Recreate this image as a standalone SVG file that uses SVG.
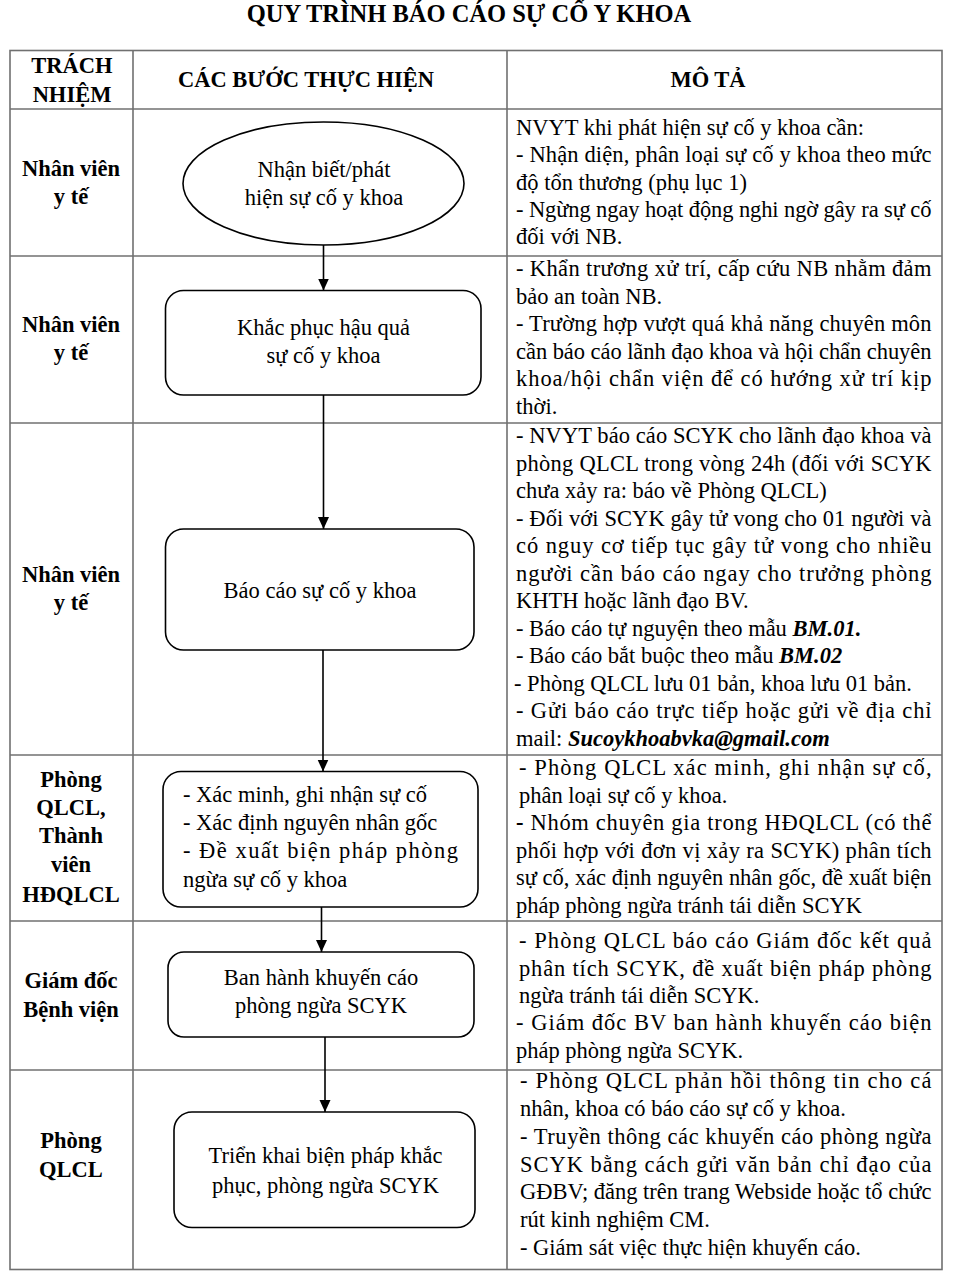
<svg xmlns="http://www.w3.org/2000/svg" width="966" height="1280" viewBox="0 0 966 1280">
<style>
text{font-family:"Liberation Serif","Times New Roman",serif;font-size:22.5px;fill:#000}
.b{font-weight:bold}
.c{text-anchor:middle}
.bi{font-weight:bold;font-style:italic}
.grid{stroke:#707070;stroke-width:1.6;fill:none}
.node{fill:#fff;stroke:#000;stroke-width:1.6}
.conn{stroke:#000;stroke-width:1.6;fill:none;marker-end:url(#arr)}
</style>
<defs>
<marker id="arr" markerUnits="userSpaceOnUse" markerWidth="12" markerHeight="12" viewBox="0 0 12 12" refX="12" refY="6" orient="auto">
<path d="M0,0.5 L12,6 L0,11.5 z" fill="#000"/>
</marker>
</defs>
<rect width="966" height="1280" fill="#fff"/>
<text class="b c" x="469" y="22" style="font-size:24.5px">QUY TRÌNH BÁO CÁO SỰ CỐ Y KHOA</text>

<g id="table">
<rect class="grid" x="10" y="50.5" width="932" height="1219"/>
<line class="grid" x1="133" y1="50.5" x2="133" y2="1269.5"/>
<line class="grid" x1="507" y1="50.5" x2="507" y2="1269.5"/>
<line class="grid" x1="10" y1="109" x2="942" y2="109"/>
<line class="grid" x1="10" y1="256" x2="942" y2="256"/>
<line class="grid" x1="10" y1="423" x2="942" y2="423"/>
<line class="grid" x1="10" y1="755" x2="942" y2="755"/>
<line class="grid" x1="10" y1="921" x2="942" y2="921"/>
<line class="grid" x1="10" y1="1070" x2="942" y2="1070"/>
</g>

<g id="header">
<text class="b c" x="72" y="73">TRÁCH</text>
<text class="b c" x="72" y="102">NHIỆM</text>
<text class="b c" x="306" y="87">CÁC BƯỚC THỰC HIỆN</text>
<text class="b c" x="708" y="87">MÔ TẢ</text>
</g>

<g id="responsibility">
<text class="b c" x="71" y="176">Nhân viên</text>
<text class="b c" x="71" y="204">y tế</text>
<text class="b c" x="71" y="332">Nhân viên</text>
<text class="b c" x="71" y="360">y tế</text>
<text class="b c" x="71" y="582">Nhân viên</text>
<text class="b c" x="71" y="610">y tế</text>
<text class="b c" x="71" y="787">Phòng</text>
<text class="b c" x="71" y="815">QLCL,</text>
<text class="b c" x="71" y="843">Thành</text>
<text class="b c" x="71" y="872">viên</text>
<text class="b c" x="71" y="902">HĐQLCL</text>
<text class="b c" x="71" y="988">Giám đốc</text>
<text class="b c" x="71" y="1017">Bệnh viện</text>
<text class="b c" x="71" y="1148">Phòng</text>
<text class="b c" x="71" y="1177">QLCL</text>
</g>

<g id="n1">
<ellipse class="node" cx="323.5" cy="183.5" rx="140.5" ry="61.5"/>
<text class="c" x="324" y="177">Nhận biết/phát</text>
<text class="c" x="324" y="205">hiện sự cố y khoa</text>
</g>
<g id="n2">
<rect class="node" x="165.5" y="290.5" width="315.5" height="104.5" rx="18"/>
<text class="c" x="323.5" y="335">Khắc phục hậu quả</text>
<text class="c" x="323.5" y="363">sự cố y khoa</text>
</g>
<g id="n3">
<rect class="node" x="165.5" y="529" width="308.5" height="121" rx="18"/>
<text class="c" x="320" y="598">Báo cáo sự cố y khoa</text>
</g>
<g id="n4">
<rect class="node" x="163" y="771.5" width="315" height="135.5" rx="18"/>
<text x="183" y="802">- Xác minh, ghi nhận sự cố</text>
<text x="183" y="830">- Xác định nguyên nhân gốc</text>
<text x="183" y="858" textLength="275" lengthAdjust="spacing">- Đề xuất biện pháp phòng</text>
<text x="183" y="887">ngừa sự cố y khoa</text>
</g>
<g id="n5">
<rect class="node" x="168" y="952" width="306" height="85" rx="16"/>
<text class="c" x="321" y="985">Ban hành khuyến cáo</text>
<text class="c" x="321" y="1013">phòng ngừa SCYK</text>
</g>
<g id="n6">
<rect class="node" x="174" y="1112" width="301" height="115.5" rx="18"/>
<text class="c" x="325.5" y="1163">Triển khai biện pháp khắc</text>
<text class="c" x="325.5" y="1193">phục, phòng ngừa SCYK</text>
</g>

<g id="connectors">
<line class="conn" x1="323.5" y1="245" x2="323.5" y2="290.5"/>
<line class="conn" x1="323.5" y1="395" x2="323.5" y2="529"/>
<line class="conn" x1="323" y1="650" x2="323" y2="771.5"/>
<line class="conn" x1="321.5" y1="907" x2="321.5" y2="952"/>
<line class="conn" x1="325" y1="1037" x2="325" y2="1112"/>
</g>

<g id="desc1">
<text x="516" y="135">NVYT khi phát hiện sự cố y khoa cần:</text>
<text x="516" y="162" textLength="415.5" lengthAdjust="spacing">- Nhận diện, phân loại sự cố y khoa theo mức</text>
<text x="516" y="190">độ tổn thương (phụ lục 1)</text>
<text x="516" y="217" textLength="415.5" lengthAdjust="spacing">- Ngừng ngay hoạt động nghi ngờ gây ra sự cố</text>
<text x="516" y="244">đối với NB.</text>
</g>
<g id="desc2">
<text x="516" y="276" textLength="415.5" lengthAdjust="spacing">- Khẩn trương xử trí, cấp cứu NB nhằm đảm</text>
<text x="516" y="303.5">bảo an toàn NB.</text>
<text x="516" y="331" textLength="415.5" lengthAdjust="spacing">- Trường hợp vượt quá khả năng chuyên môn</text>
<text x="516" y="358.5" textLength="415.5" lengthAdjust="spacing">cần báo cáo lãnh đạo khoa và hội chẩn chuyên</text>
<text x="516" y="386" textLength="415.5" lengthAdjust="spacing">khoa/hội chẩn viện để có hướng xử trí kịp</text>
<text x="516" y="413.5">thời.</text>
</g>
<g id="desc3">
<text x="516" y="443" textLength="415.5" lengthAdjust="spacing">- NVYT báo cáo SCYK cho lãnh đạo khoa và</text>
<text x="516" y="470.5" textLength="415.5" lengthAdjust="spacing">phòng QLCL trong vòng 24h (đối với SCYK</text>
<text x="516" y="498">chưa xảy ra: báo về Phòng QLCL)</text>
<text x="516" y="525.5" textLength="415.5" lengthAdjust="spacing">- Đối với SCYK gây tử vong cho 01 người và</text>
<text x="516" y="553" textLength="415.5" lengthAdjust="spacing">có nguy cơ tiếp tục gây tử vong cho nhiều</text>
<text x="516" y="580.5" textLength="415.5" lengthAdjust="spacing">người cần báo cáo ngay cho trưởng phòng</text>
<text x="516" y="608">KHTH hoặc lãnh đạo BV.</text>
<text x="516" y="635.5">- Báo cáo tự nguyện theo mẫu <tspan class="bi">BM.01.</tspan></text>
<text x="516" y="663">- Báo cáo bắt buộc theo mẫu <tspan class="bi">BM.02</tspan></text>
<text x="514" y="690.5">- Phòng QLCL lưu 01 bản, khoa lưu 01 bản.</text>
<text x="516" y="718" textLength="415.5" lengthAdjust="spacing">- Gửi báo cáo trực tiếp hoặc gửi về địa chỉ</text>
<text x="516" y="745.5">mail: <tspan class="bi">Sucoykhoabvka@gmail.com</tspan></text>
</g>
<g id="desc4">
<text x="519" y="775" textLength="412.5" lengthAdjust="spacing">- Phòng QLCL xác minh, ghi nhận sự cố,</text>
<text x="519" y="802.5">phân loại sự cố y khoa.</text>
<text x="516" y="830" textLength="415.5" lengthAdjust="spacing"><tspan class="b">-</tspan> Nhóm chuyên gia trong HĐQLCL (có thể</text>
<text x="516" y="857.5" textLength="415.5" lengthAdjust="spacing">phối hợp với đơn vị xảy ra SCYK) phân tích</text>
<text x="516" y="885" textLength="415.5" lengthAdjust="spacing">sự cố, xác định nguyên nhân gốc, đề xuất biện</text>
<text x="516" y="912.5">pháp phòng ngừa tránh tái diễn SCYK</text>
</g>
<g id="desc5">
<text x="519" y="948" textLength="412.5" lengthAdjust="spacing">- Phòng QLCL báo cáo Giám đốc kết quả</text>
<text x="519" y="975.5" textLength="412.5" lengthAdjust="spacing">phân tích SCYK, đề xuất biện pháp phòng</text>
<text x="519" y="1003">ngừa tránh tái diễn SCYK.</text>
<text x="516" y="1030" textLength="415.5" lengthAdjust="spacing">- Giám đốc BV ban hành  khuyến cáo biện</text>
<text x="516" y="1057.5">pháp phòng ngừa SCYK.</text>
</g>
<g id="desc6">
<text x="520" y="1088" textLength="411.5" lengthAdjust="spacing">- Phòng QLCL phản hồi thông tin cho cá</text>
<text x="520" y="1116">nhân, khoa có báo cáo sự cố y khoa.</text>
<text x="520" y="1144" textLength="411.5" lengthAdjust="spacing">- Truyền thông các khuyến cáo phòng ngừa</text>
<text x="520" y="1171.5" textLength="411.5" lengthAdjust="spacing">SCYK bằng cách gửi văn bản chỉ đạo của</text>
<text x="520" y="1199" textLength="411.5" lengthAdjust="spacing">GĐBV; đăng trên trang Webside hoặc tổ chức</text>
<text x="520" y="1227">rút kinh nghiệm CM.</text>
<text x="520" y="1255">- Giám sát việc thực hiện khuyến cáo.</text>
</g>
</svg>
